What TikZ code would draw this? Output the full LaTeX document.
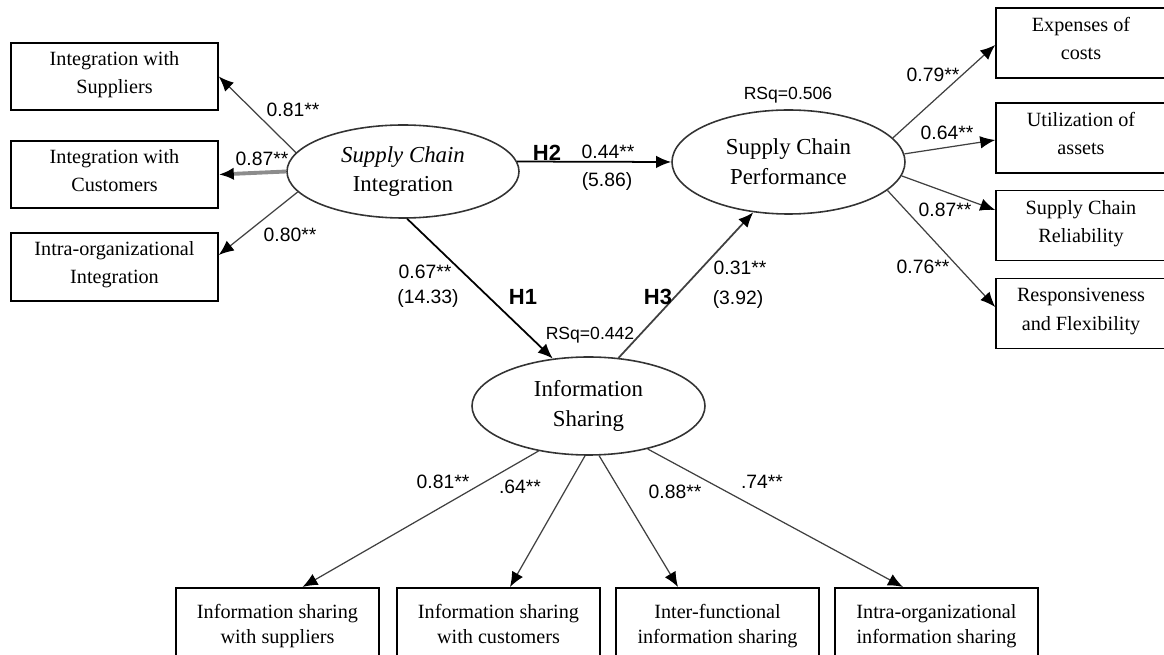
\documentclass[tikz,border=0pt]{standalone}
\usepackage{fontspec}
\setmainfont{Liberation Serif}
\setsansfont{Liberation Sans}
\usetikzlibrary{arrows.meta, shapes.geometric}

\tikzset{
  indicator/.style={draw, line width=0.9pt, minimum height=1.34cm, align=center, inner sep=1pt, font=\fontsize{11.5}{16}\selectfont,
    execute at begin node=\strut, execute at end node=\strut},
  construct/.style={ellipse, draw=black!80, line width=0.9pt, inner sep=0pt, align=center, font=\fontsize{13}{17}\selectfont},
  loading/.style={draw=black!75, line width=0.7pt, -{Latex[length=3mm,width=2.5mm,color=black]}},
  hypo/.style={draw=black, line width=1pt, -{Latex[length=3mm,width=2.5mm,color=black]}},
  coef/.style={font=\sffamily\fontsize{11}{13}\selectfont, inner sep=0pt},
  hlabel/.style={font=\sffamily\bfseries\fontsize{12.5}{14}\selectfont, inner sep=0pt},
  rsq/.style={font=\sffamily\fontsize{10}{12}\selectfont, inner sep=0pt}
}

\begin{document}
\begin{tikzpicture}
    \useasboundingbox (0,0) rectangle (23.28,13.1);
    \clip (0,0) rectangle (23.28,13.1);

    % latent constructs
    \node[construct, minimum width=4.64cm, minimum height=1.86cm] (sci) at (8.06,9.67) {\textit{Supply Chain}\\Integration};
    \node[construct, minimum width=4.66cm, minimum height=2.08cm] (scp) at (15.77,9.86) {Supply Chain\\Performance};
    \node[construct, minimum width=4.66cm, minimum height=1.96cm] (info) at (11.77,4.98) {Information\\Sharing};

    % indicators of integration
    \node[indicator, minimum width=4.14cm] (supp) at (2.29,11.57) {Integration with\\Suppliers};
    \node[indicator, minimum width=4.14cm] (cust) at (2.29,9.61) {Integration with\\Customers};
    \node[indicator, minimum width=4.14cm, minimum height=1.36cm] (intra) at (2.29,7.76) {Intra-organizational\\Integration};

    % indicators of performance
    \node[indicator, minimum width=3.4cm, minimum height=1.4cm] (exp) at (21.62,12.24) {Expenses of\\costs};
    \node[indicator, minimum width=3.4cm, minimum height=1.4cm] (util) at (21.62,10.34) {Utilization of\\assets};
    \node[indicator, minimum width=3.4cm, minimum height=1.4cm] (rel) at (21.62,8.59) {Supply Chain\\Reliability};
    \node[indicator, minimum width=3.4cm, minimum height=1.4cm] (resp) at (21.62,6.83) {Responsiveness\\and Flexibility};

    % indicators of information sharing
    \node[indicator, minimum width=4.06cm, minimum height=1.6cm, anchor=north, font=\fontsize{11.5}{14.5}\selectfont] (isup) at (5.55,1.36) {Information sharing\\with suppliers};
    \node[indicator, minimum width=4.06cm, minimum height=1.6cm, anchor=north, font=\fontsize{11.5}{14.5}\selectfont] (iscu) at (9.97,1.36) {Information sharing\\with customers};
    \node[indicator, minimum width=4.06cm, minimum height=1.6cm, anchor=north, font=\fontsize{11.5}{14.5}\selectfont] (ifun) at (14.35,1.36) {Inter-functional\\information sharing};
    \node[indicator, minimum width=4.06cm, minimum height=1.6cm, anchor=north, font=\fontsize{11.5}{14.5}\selectfont] (iorg) at (18.73,1.36) {Intra-organizational\\information sharing};

    % loadings
    \draw[loading] (sci.170) -- (supp.east);
    \draw[loading, draw=black!45, line width=2.2pt] (sci.west) -- (cust.east);
    \draw[loading] (sci.191) -- ([yshift=2.4mm]intra.east);

    \draw[loading] (scp.13) -- ([yshift=-0.4mm]exp.west);
    \draw[loading] (scp.4) -- ([yshift=-0.4mm]util.west);
    \draw[loading] (scp.353) -- ([yshift=3.1mm]rel.west);
    \draw[loading] (scp.344) -- ([yshift=1.3mm]resp.west);

    \draw[loading] (info.222) -- ([xshift=5mm]isup.north);
    \draw[loading] (info.266) -- ([xshift=2.3mm]iscu.north);
    \draw[loading] (info.282) -- ([xshift=-7.9mm]ifun.north);
    \draw[loading] (info.324) -- ([xshift=-6.7mm]iorg.north);

    % hypotheses
    \draw[hypo] (sci.275) -- (info.127);
    \draw[hypo] (sci.5) -- (scp.west);
    \draw[hypo, draw=black!75] (info.58) -- (scp.235);

    % coefficients
    \node[coef] (l1) at (5.86,10.90) {0.81**};
    \node[coef] (l2) at (5.24,9.92) {0.87**};
    \node[coef] (l3) at (5.80,8.40) {0.80**};
    \node[coef] (l4) at (18.66,11.60) {0.79**};
    \node[coef] (l5) at (18.94,10.44) {0.64**};
    \node[coef] (l6) at (18.90,8.90) {0.87**};
    \node[coef] (l7) at (18.46,7.76) {0.76**};
    \node[coef] (l8) at (8.86,3.46) {0.81**};
    \node[coef] (l9) at (10.40,3.36) {.64**};
    \node[coef] (l10) at (13.50,3.26) {0.88**};
    \node[coef] (l11) at (15.24,3.46) {.74**};

    \node[coef] (b1) at (8.50,7.66) {0.67**};
    \node[coef] (t1) at (8.56,7.12) {(14.33)};
    \node[coef] (b2) at (12.16,10.06) {0.44**};
    \node[coef] (t2) at (12.14,9.46) {(5.86)};
    \node[coef] (b3) at (14.80,7.74) {0.31**};
    \node[coef] (t3) at (14.76,7.10) {(3.92)};

    \node[hlabel] (h1) at (10.46,7.16) {H1};
    \node[hlabel] (h2) at (10.94,10.04) {H2};
    \node[hlabel] (h3) at (13.16,7.16) {H3};

    \node[rsq] (rsqinfo) at (11.80,6.40) {RSq=0.442};
    \node[rsq] (rsqscp) at (15.76,11.20) {RSq=0.506};
\end{tikzpicture}
\end{document}
